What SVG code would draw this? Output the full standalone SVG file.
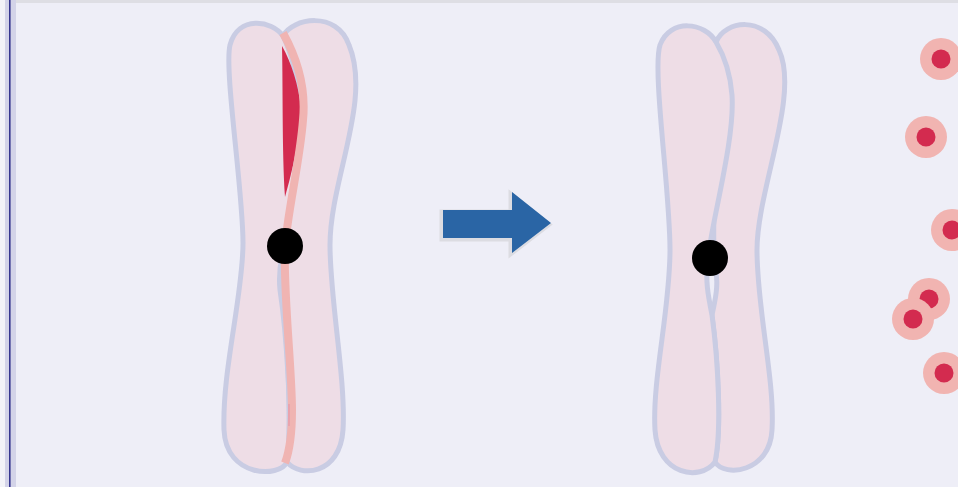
<svg xmlns="http://www.w3.org/2000/svg" width="958" height="487" viewBox="0 0 958 487">
  <style>
    .chromatid { fill: #eedde6; stroke: #c9cce3; stroke-width: 5; stroke-linejoin: round; }
    .centromere { fill: #000000; }
    .halo { fill: #f1b4b1; }
    .core { fill: #d32b4f; }
  </style>

  <!-- panel background and frame -->
  <rect x="0" y="0" width="958" height="487" fill="#eeeef7"/>
  <rect x="15" y="0" width="943" height="3" fill="#dedee4"/>
  <rect x="0" y="0" width="5" height="487" fill="#f3f3f8"/>
  <rect x="5" y="0" width="11" height="487" fill="#d3d3e8"/>
  <rect x="9" y="0" width="1.6" height="487" fill="#36368f"/>

  <!-- chromosome before: two chromatids joined, with inner strip -->
  <g id="chromosome-before">
    <path class="chromatid" d="M 283 36 C 272 20, 238 15, 230 45 C 224 70, 243 190, 243 243 C 243 296, 222 370, 224 430 C 226 478, 280 478, 287 462 C 293 420, 286 330, 280 290 C 278 270, 282 255, 285 246 C 290 200, 305 120, 300 95 C 296 70, 290 50, 283 36 Z"/>
    <path class="chromatid" d="M 283 36 C 292 18, 337 10, 349 45 C 372 100, 330 180, 330 245 C 330 300, 346 380, 343 430 C 340 475, 300 478, 287 462 C 293 420, 286 330, 283 290 C 282 270, 284 255, 285 246 C 290 200, 305 120, 300 95 C 296 70, 290 50, 283 36 Z"/>
    <path d="M 282 46 C 283 90, 282 150, 285 197 C 293 170, 301 130, 301 110 C 299 85, 291 62, 282 46 Z" fill="#d32b4f"/>
    <path d="M 283 33 C 298 60, 306 90, 303 120 C 300 160, 288 210, 285 246 C 283 290, 292 370, 292 410 C 292 440, 288 455, 285 463" fill="none" stroke="#f0b4b2" stroke-width="8"/>
    <path d="M 289 404 L 289 426" stroke="#eaa3ad" stroke-width="2" fill="none"/>
    <circle class="centromere" cx="285" cy="246" r="18"/>
  </g>

  <!-- transition arrow -->
  <g id="arrow">
    <polygon points="443,210 512,210 512,192 551,223 512,253 512,238 443,238" fill="#dcdce2" stroke="#dcdce2" stroke-width="4" transform="translate(-1.5,1.5)"/>
    <polygon points="443,210 512,210 512,192 551,223 512,253 512,238 443,238" fill="#2a65a5"/>
  </g>

  <!-- chromosome after: chromatids without strip -->
  <g id="chromosome-after">
    <path class="chromatid" d="M 716 42 C 725 20, 765 15, 779 50 C 800 95, 757 190, 757 250 C 757 310, 775 380, 772 430 C 770 472, 725 478, 715 462 C 722 430, 718 360, 712 315 C 715 300, 720 285, 714 258 C 712 180, 720 80, 716 42 Z"/>
    <path class="chromatid" d="M 716 42 C 705 22, 670 18, 660 45 C 652 70, 670 190, 670 250 C 670 310, 652 380, 655 430 C 658 475, 700 482, 715 462 C 722 430, 718 360, 712 315 C 708 295, 705 280, 708 258 C 712 220, 735 140, 732 95 C 730 70, 722 52, 716 42 Z"/>
    <circle class="centromere" cx="710" cy="258" r="18"/>
  </g>

  <!-- released particles -->
  <g id="particles">
    <g id="particle-1"><circle class="halo" cx="941" cy="59" r="21"/><circle class="core" cx="941" cy="59" r="9.5"/></g>
    <g id="particle-2"><circle class="halo" cx="926" cy="137" r="21"/><circle class="core" cx="926" cy="137" r="9.5"/></g>
    <g id="particle-3"><circle class="halo" cx="952" cy="230" r="21"/><circle class="core" cx="952" cy="230" r="9.5"/></g>
    <g id="particle-4"><circle class="halo" cx="929" cy="299" r="21"/><circle class="core" cx="929" cy="299" r="9.5"/></g>
    <g id="particle-5"><circle class="halo" cx="913" cy="319" r="21"/><circle class="core" cx="913" cy="319" r="9.5"/></g>
    <g id="particle-6"><circle class="halo" cx="944" cy="373" r="21"/><circle class="core" cx="944" cy="373" r="9.5"/></g>
  </g>
</svg>
